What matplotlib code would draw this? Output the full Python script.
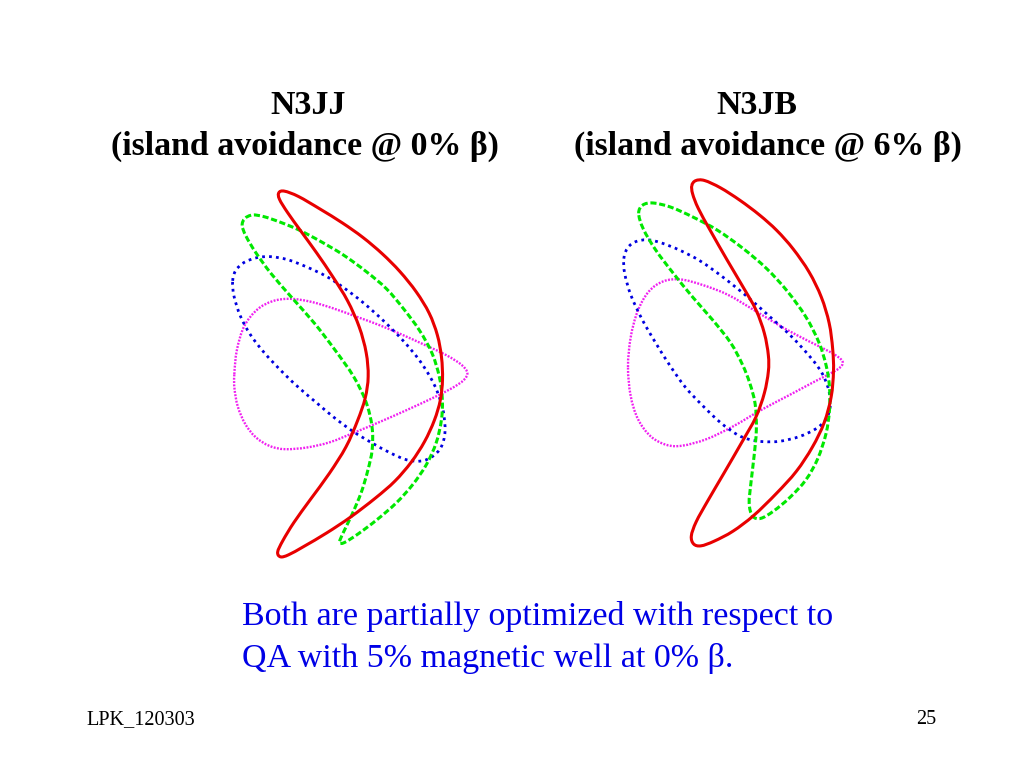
import matplotlib
matplotlib.use("Agg")
import matplotlib.pyplot as plt
import numpy as np
from matplotlib.path import Path
from matplotlib.patches import PathPatch

plt.rcParams['font.family'] = ['Liberation Serif', 'DejaVu Serif']

# flux surface outlines, (x, y) in slide pixels
left_red = [(278,192),(283,190),(297,195),(320,209),(343,223),(363,237),(383,254),(400,271),(417,292),(430,313),(438,335),(442,357),(443,380),(441,400),(435,420),(425,442),(412,462),(395,482),(377,497),(350,518),(327,533),(303,547),(287,556),(280,558),(276,553),(282,542),(293,523),(310,500),(330,473),(347,447),(358,420),(366,398),(369,377),(367,353),(360,327),(348,300),(333,277),(317,253),(300,230),(287,212),(278,198)]
left_green = [(241,225),(244,218),(252,214),(263,216),(280,222),(298,229),(320,241),(343,254),(367,272),(387,288),(403,308),(420,330),(433,353),(440,377),(443,400),(442,420),(437,443),(427,465),(413,485),(397,503),(377,520),(357,535),(343,544),(338,544),(342,535),(352,515),(362,492),(368,470),(373,450),(373,427),(367,402),(355,377),(335,350),(315,323),(292,298),(270,273),(255,252),(245,235)]
left_blue = [(232,280),(235,270),(243,262),(257,257),(270,256),(288,259),(307,267),(327,276),(343,287),(363,302),(383,320),(403,340),(420,360),(431,378),(437,390),(444,410),(446,433),(442,448),(433,457),(422,462),(407,461),(390,453),(372,443),(353,432),(333,417),(317,403),(300,389),(285,375),(263,352),(250,335),(240,317),(233,295)]
left_magenta = [(234,377),(236,350),(243,325),(257,308),(273,300),(290,298),(310,301),(333,308),(357,317),(380,325),(403,335),(427,346),(447,355),(463,365),(469,373),(465,380),(453,388),(433,398),(407,410),(380,422),(353,433),(330,443),(307,448),(283,450),(270,447),(255,438),(245,425),(237,407),(234,387)]

right_red = [(691,185),(695,180),(703,179),(720,187),(740,200),(760,215),(777,230),(793,248),(810,272),(822,297),(830,323),(833,350),(834,370),(832,397),(825,423),(813,447),(797,472),(777,493),(753,517),(733,532),(713,542),(700,547),(693,545),(690,537),(695,523),(707,502),(723,475),(743,440),(757,417),(765,393),(769,370),(769,357),(765,333),(757,310),(743,287),(727,260),(710,230),(697,207),(692,193)]
right_green = [(637,212),(642,204),(652,202),(670,206),(693,217),(717,229),(743,248),(767,268),(787,290),(807,317),(820,343),(827,367),(830,387),(830,410),(827,433),(818,460),(807,480),(790,498),(773,512),(760,520),(752,518),(748,505),(751,483),(754,457),(757,430),(756,403),(750,383),(743,365),(732,343),(713,320),(693,298),(673,273),(655,250),(642,228)]
right_blue = [(623,258),(627,247),(635,241),(647,239),(660,242),(680,250),(700,260),(723,277),(747,296),(770,317),(793,337),(813,360),(823,373),(830,392),(831,407),(827,420),(817,429),(800,437),(780,442),(763,442),(750,440),(738,436),(720,423),(702,405),(685,388),(670,366),(655,342),(642,320),(630,295),(624,273)]
right_magenta = [(627,367),(630,337),(637,310),(648,290),(663,280),(680,278),(703,285),(727,293),(757,312),(783,328),(810,342),(833,353),(843,360),(843,365),(838,370),(817,380),(790,395),(760,410),(733,427),(707,440),(680,447),(667,446),(650,438),(637,420),(630,397)]

titles = ["N3JJ", "N3JB"]
subtitles = ["(island avoidance @ 0% \u03b2)", "(island avoidance @ 6% \u03b2)"]
note_lines = ["Both are partially optimized with respect to", "QA with 5% magnetic well at 0% \u03b2."]
footer_left = "LPK_120303"
footer_right = "25"


def closed_curve(points):
    # closed smooth path through the read points, reading jitter evened out first
    p = np.array(points, dtype=float)
    p = (np.roll(p, 1, axis=0) + 4 * p + np.roll(p, -1, axis=0)) / 6
    prev_p = np.roll(p, 1, axis=0)
    next_p = np.roll(p, -1, axis=0)
    next2_p = np.roll(p, -2, axis=0)
    verts = [p[0]]
    codes = [Path.MOVETO]
    for a, b, c, d in zip(prev_p, p, next_p, next2_p):
        verts += [b + (c - a) / 6, c - (d - b) / 6, c]
        codes += [Path.CURVE4] * 3
    return Path(verts, codes)


def draw_surface(ax, points, color, lw, ls):
    ax.add_patch(PathPatch(closed_curve(points), fill=False, edgecolor=color, lw=lw, linestyle=ls))


fig = plt.figure(figsize=(10.24, 7.68), dpi=100)
ax = fig.add_axes([0, 0, 1, 1])
ax.set_xlim(0, 1024)
ax.set_ylim(768, 0)
ax.axis('off')

# same drawing order as the slide: magenta under, red on top
for surfaces in [(left_magenta, left_blue, left_green, left_red),
                 (right_magenta, right_blue, right_green, right_red)]:
    draw_surface(ax, surfaces[0], '#f020f0', 1.7, (0, (0.8, 0.6)))
    draw_surface(ax, surfaces[1], '#0000e0', 2.0, (0, (1.0, 1.5)))
    draw_surface(ax, surfaces[2], '#00e800', 2.2, (0, (2.0, 0.9)))
    draw_surface(ax, surfaces[3], '#e80000', 2.2, '-')

ax.text(308, 114, titles[0], fontsize=24.4, fontweight='bold', ha='center', va='baseline')
ax.text(757, 114, titles[1], fontsize=24.4, fontweight='bold', ha='center', va='baseline')
ax.text(305, 155, subtitles[0], fontsize=24.4, fontweight='bold', ha='center', va='baseline')
ax.text(768, 155, subtitles[1], fontsize=24.4, fontweight='bold', ha='center', va='baseline')

ax.text(242, 625, note_lines[0], fontsize=24.5, color='#0000e6', ha='left', va='baseline')
ax.text(242, 667, note_lines[1], fontsize=24.5, color='#0000e6', ha='left', va='baseline')

ax.text(86, 724, footer_left, fontsize=14.6, ha='left', va='baseline')
ax.text(936, 724, footer_right, fontsize=14.6, ha='right', va='baseline')

fig.savefig('out.png', dpi=100)
